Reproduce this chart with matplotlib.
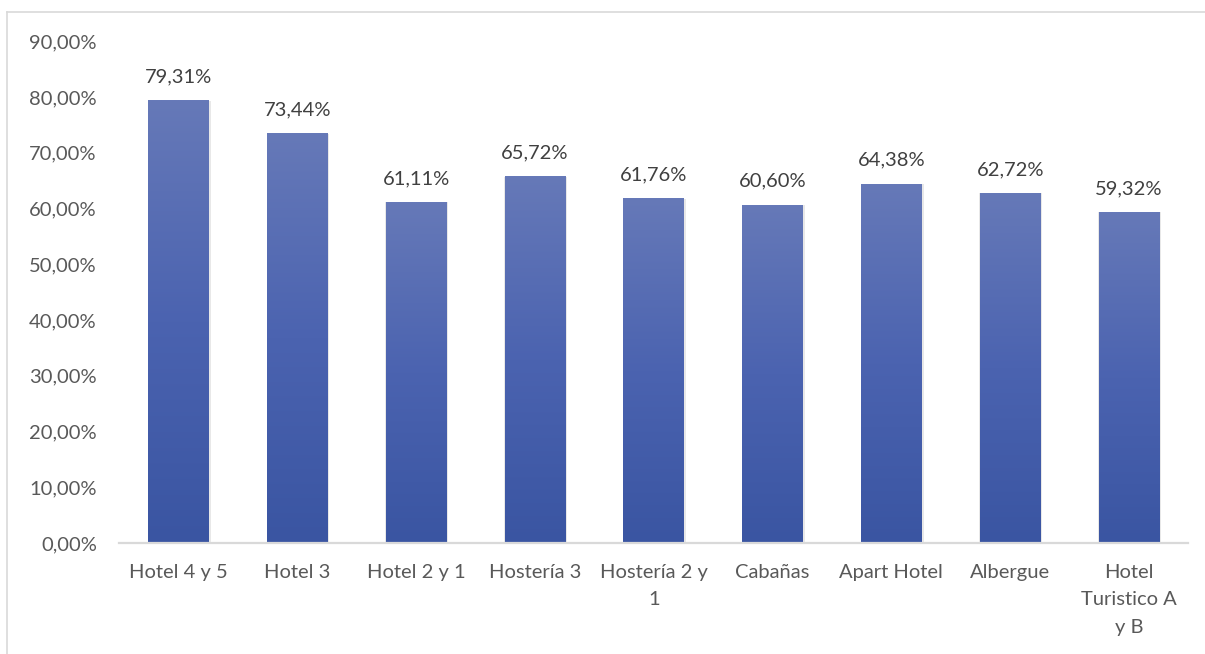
import matplotlib
matplotlib.use("Agg")
import matplotlib.pyplot as plt
import numpy as np
from matplotlib.colors import LinearSegmentedColormap
from matplotlib.ticker import FuncFormatter

categories = ["Hotel 4 y 5", "Hotel 3", "Hotel 2 y 1", "Hostería 3", "Hostería 2 y\n1",
              "Cabañas", "Apart Hotel", "Albergue", "Hotel\nTuristico A\ny B"]
values = [79.31, 73.44, 61.11, 65.72, 61.76, 60.60, 64.38, 62.72, 59.32]

plt.rcParams["font.family"] = ["Lato", "DejaVu Sans"]
text_color = "#595959"

fig = plt.figure(figsize=(12.05, 6.54), dpi=100)
ax = fig.add_axes([0.0988, 0.1697, 0.8875, 0.7673])

grad = LinearSegmentedColormap.from_list("bar", ["#3A55A2", "#4B63B0", "#6679B8"])
x = np.arange(len(categories))
width = 0.51

bars = ax.bar(x, values, width, color="none", edgecolor="none", zorder=2)
for b in bars:
    x0, y0 = b.get_x(), b.get_y()
    w, h = b.get_width(), b.get_height()
    # soft shadow
    ax.bar(x0 + w / 2 + 0.006, h, w + 0.02, color="#dadada", alpha=0.6, zorder=1, linewidth=0)
    ax.imshow(np.linspace(0, 1, 256).reshape(-1, 1), cmap=grad, origin="lower",
              extent=[x0, x0 + w, y0, y0 + h], aspect="auto", zorder=3)

for xi, v in zip(x, values):
    ax.annotate(f"{v:.2f}%".replace(".", ","), (xi, v), textcoords="offset points",
                xytext=(0, 11), ha="center", va="bottom", fontsize=14.5, color="#404040")

ax.set_xlim(-0.5, len(categories) - 0.5)
ax.set_ylim(0, 90)
ax.set_yticks(np.arange(0, 91, 10))
ax.yaxis.set_major_formatter(FuncFormatter(lambda v, p: f"{v:.2f}%".replace(".", ",")))
ax.set_xticks(x)
ax.set_xticklabels(categories, linespacing=1.75)
ax.tick_params(axis="both", length=0, labelsize=14.5, colors=text_color)
ax.tick_params(axis="x", pad=15)
ax.tick_params(axis="y", pad=16)

for s in ["top", "right", "left"]:
    ax.spines[s].set_visible(False)
ax.spines["bottom"].set_color("#d9d9d9")
ax.spines["bottom"].set_linewidth(1.6)
ax.spines["bottom"].set_zorder(4)

# chart frame (only top and left visible in the crop)
fig.add_artist(plt.Line2D([7 / 1205, 1.0], [1 - 12 / 654] * 2, color="#d9d9d9", lw=1.2))
fig.add_artist(plt.Line2D([7 / 1205] * 2, [0, 1 - 12 / 654], color="#d9d9d9", lw=1.2))

fig.savefig("out.png", dpi=100)
